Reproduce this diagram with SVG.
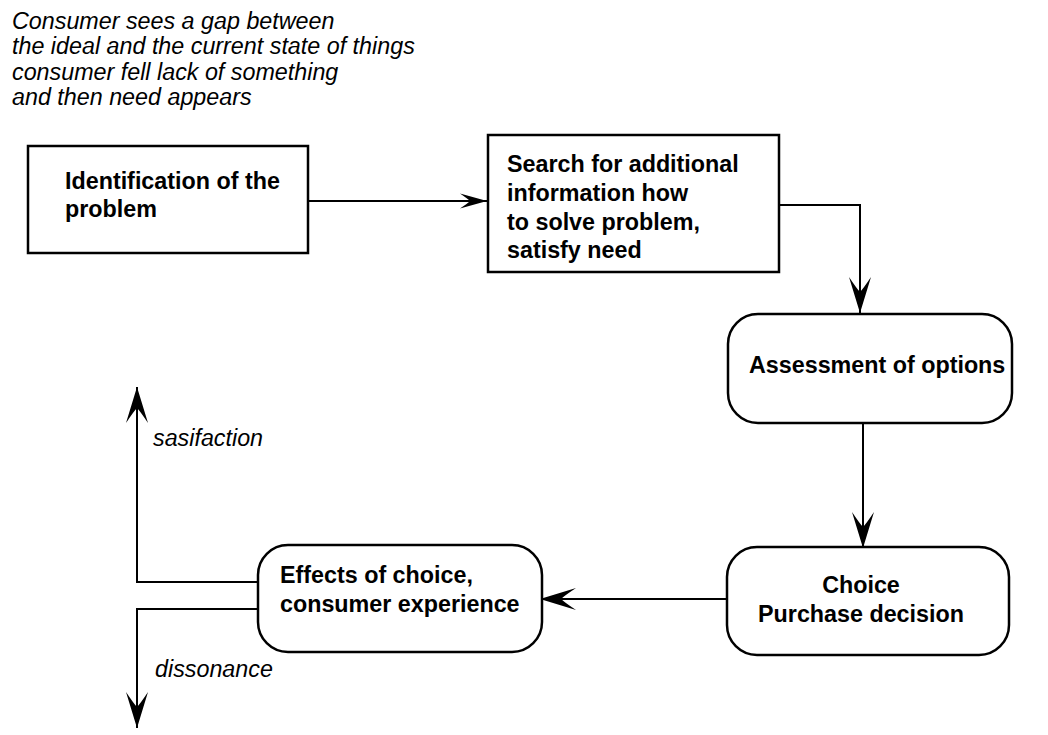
<svg xmlns="http://www.w3.org/2000/svg" width="1048" height="735" viewBox="0 0 1048 735">
<style>
.box{fill:#fff;stroke:#000;stroke-width:2.5}
.lbl{font-family:"Liberation Sans",Arial,sans-serif;font-size:23.3px;font-weight:bold;fill:#000}
.it{font-family:"Liberation Sans",Arial,sans-serif;font-size:23.3px;font-style:italic;fill:#000}
.con{fill:none;stroke:#000;stroke-width:2}
</style>
<defs>
<marker id="big" markerUnits="userSpaceOnUse" markerWidth="40" markerHeight="26" viewBox="-37 -13 39 26" refX="0" refY="0" orient="auto">
<path d="M0,0 L-36,-11 Q-24,-3 -21,0 Q-24,3 -36,11 Z" fill="#000"/>
</marker>
<marker id="small" markerUnits="userSpaceOnUse" markerWidth="30" markerHeight="18" viewBox="-28 -9 30 18" refX="0" refY="0" orient="auto">
<path d="M0,0 L-27,-7.5 Q-19,-2 -17,0 Q-19,2 -27,7.5 Z" fill="#000"/>
</marker>
</defs>
<rect width="1048" height="735" fill="#fff"/>
<g id="note">
<text class="it" x="12" y="29">Consumer sees a gap between</text>
<text class="it" x="12" y="54.3">the ideal and the current state of things</text>
<text class="it" x="12" y="79.6">consumer fell lack of something</text>
<text class="it" x="12" y="105">and then need appears</text>
</g>
<g id="connectors">
<path class="con" d="M306,201 L487,201" marker-end="url(#small)"/>
<path class="con" d="M779,205 L860,205 L860,313" marker-end="url(#big)"/>
<path class="con" d="M863,423 L863,548" marker-end="url(#big)"/>
<path class="con" d="M727,599 L540,599" marker-end="url(#big)"/>
<path class="con" d="M258,582 L137,582 L137,387" marker-end="url(#big)"/>
<path class="con" d="M258,609 L137,609 L137,728" marker-end="url(#big)"/>
<text class="it" x="153" y="446">sasifaction</text>
<text class="it" x="155" y="677">dissonance</text>
</g>
<g id="identification">
<rect class="box" x="28" y="146" width="280" height="107"/>
<text class="lbl" x="65" y="189">Identification of the</text>
<text class="lbl" x="65" y="217">problem</text>
</g>
<g id="search">
<rect class="box" x="488" y="135" width="291" height="137"/>
<text class="lbl" x="507" y="172">Search for additional</text>
<text class="lbl" x="507" y="201">information how</text>
<text class="lbl" x="507" y="230">to solve problem,</text>
<text class="lbl" x="507" y="258">satisfy need</text>
</g>
<g id="assessment">
<rect class="box" x="728" y="314" width="284" height="109" rx="30" ry="30"/>
<text class="lbl" x="749" y="373">Assessment of options</text>
</g>
<g id="choice">
<rect class="box" x="727" y="547" width="282" height="108" rx="30" ry="30"/>
<text class="lbl" x="861" y="593" text-anchor="middle">Choice</text>
<text class="lbl" x="861" y="622" text-anchor="middle">Purchase decision</text>
</g>
<g id="effects">
<rect class="box" x="258" y="545" width="284" height="107" rx="30" ry="30"/>
<text class="lbl" x="280" y="583">Effects of choice,</text>
<text class="lbl" x="280" y="612">consumer experience</text>
</g>
</svg>
